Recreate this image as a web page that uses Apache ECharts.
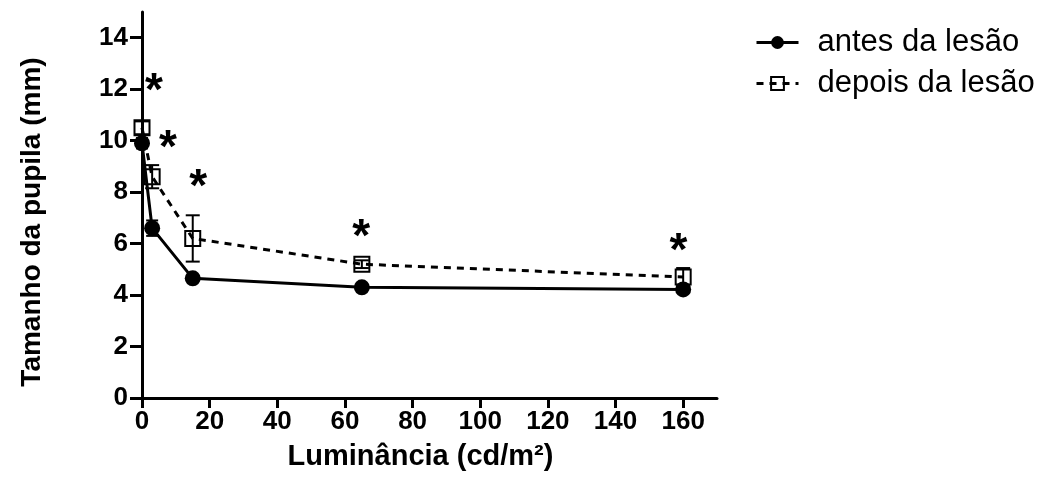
<!DOCTYPE html>
<html>
<head>
<meta charset="utf-8">
<script src="https://cdn.jsdelivr.net/npm/echarts@6/dist/echarts.min.js"></script>
<style>
html,body{margin:0;padding:0;background:#fff;}
#chart{width:1045px;height:486px;}
</style>
</head>
<body>
<div id="chart"></div>
<script>
// ---- data ----
var luminance = [0, 3, 15, 65, 160];
var antesMean = [9.9, 6.6, 4.65, 4.3, 4.22];
var antesErr = [0.2, 0.3, 0.1, 0.08, 0.1];
var depoisMean = [10.5, 8.6, 6.2, 5.2, 4.7];
var depoisErr = [0.25, 0.45, 0.9, 0.15, 0.35];
var starX = [3.5, 7.7, 16.6, 64.8, 158.6];
var starY = [12.3, 10.1, 8.56, 6.65, 6.07];
var seriesNames = ['antes da lesão', 'depois da lesão'];
var xTitle = 'Luminância (cd/m²)';
var yTitle = 'Tamanho da pupila (mm)';

var FONT = 'Liberation Sans, Arial, sans-serif';

function pairs(xs, ys) { return xs.map(function (x, i) { return [x, ys[i]]; }); }
function errData(xs, ys, es) { return xs.map(function (x, i) { return [x, ys[i] - es[i], ys[i] + es[i]]; }); }

function errRender(capHalf) {
  return function (params, api) {
    var lo = api.coord([api.value(0), api.value(1)]);
    var hi = api.coord([api.value(0), api.value(2)]);
    var st = { stroke: '#000', lineWidth: 2 };
    return {
      type: 'group',
      children: [
        { type: 'line', shape: { x1: lo[0], y1: lo[1], x2: hi[0], y2: hi[1] }, style: st },
        { type: 'line', shape: { x1: lo[0] - capHalf, y1: lo[1], x2: lo[0] + capHalf, y2: lo[1] }, style: st },
        { type: 'line', shape: { x1: hi[0] - capHalf, y1: hi[1], x2: hi[0] + capHalf, y2: hi[1] }, style: st }
      ]
    };
  };
}

var chart = echarts.init(document.getElementById('chart'), null, { renderer: 'canvas' });
chart.setOption({
  animation: false,
  backgroundColor: '#fff',
  grid: { left: 142, right: 328, top: 12, bottom: 88, containLabel: false, outerBoundsMode: 'none' },
  legend: {
    orient: 'vertical',
    left: 750,
    top: 22,
    itemWidth: 42,
    itemHeight: 16,
    itemGap: 10,
    data: seriesNames,
    lineStyle: { width: 3 },
    textStyle: { fontFamily: FONT, fontSize: 31, color: '#000', padding: [0, 0, 0, 14] }
  },
  xAxis: {
    type: 'value',
    min: 0, max: 170, interval: 20,
    name: xTitle,
    nameLocation: 'middle',
    nameGap: 44,
    nameTextStyle: { fontFamily: FONT, fontSize: 29, fontWeight: 'bold', color: '#000', padding: [0, 18, 0, 0] },
    axisLine: { show: true, onZero: false, lineStyle: { color: '#000', width: 3 } },
    axisTick: { show: true, length: 10, lineStyle: { color: '#000', width: 3 } },
    axisLabel: {
      fontFamily: FONT, fontSize: 26, fontWeight: 'bold', color: '#000', margin: 11,
      showMaxLabel: false,
      formatter: function (v) { return v > 160 ? '' : String(v); }
    },
    splitLine: { show: false }
  },
  yAxis: {
    type: 'value',
    min: 0, max: 15, interval: 2,
    name: yTitle,
    nameLocation: 'middle',
    nameGap: 96,
    nameTextStyle: { fontFamily: FONT, fontSize: 28, fontWeight: 'bold', color: '#000', padding: [0, 34, 0, 0] },
    axisLine: { show: true, onZero: false, lineStyle: { color: '#000', width: 3 } },
    axisTick: { show: true, length: 12, lineStyle: { color: '#000', width: 3 } },
    axisLabel: {
      fontFamily: FONT, fontSize: 26, fontWeight: 'bold', color: '#000', margin: 14,
      showMaxLabel: false,
      formatter: function (v) { return v > 14 ? '' : String(v); }
    },
    splitLine: { show: false }
  },
  series: [
    {
      name: 'errDepois', type: 'custom', z: 2,
      renderItem: errRender(7),
      data: errData(luminance, depoisMean, depoisErr),
      encode: { x: 0, y: [1, 2] }, silent: true
    },
    {
      name: 'errAntes', type: 'custom', z: 2,
      renderItem: errRender(6),
      data: errData(luminance, antesMean, antesErr),
      encode: { x: 0, y: [1, 2] }, silent: true
    },
    {
      name: seriesNames[1], type: 'line', z: 3,
      data: pairs(luminance, depoisMean),
      symbol: 'rect', symbolSize: 15,
      lineStyle: { color: '#000', width: 3, type: [7, 6] },
      itemStyle: { color: 'rgba(255,255,255,0)', borderColor: '#000', borderWidth: 2 }
    },
    {
      name: seriesNames[0], type: 'line', z: 4,
      data: pairs(luminance, antesMean),
      symbol: 'circle', symbolSize: 16,
      lineStyle: { color: '#000', width: 3 },
      itemStyle: { color: '#000', borderColor: '#000', borderWidth: 0 }
    },
    {
      name: 'stars', type: 'custom', z: 5, silent: true,
      data: pairs(starX, starY),
      renderItem: function (params, api) {
        var p = api.coord([api.value(0), api.value(1)]);
        return {
          type: 'text', x: p[0], y: p[1] + 11,
          style: { text: '*', font: 'bold 46px ' + FONT, fill: '#000', align: 'center', verticalAlign: 'middle' }
        };
      }
    }
  ]
});
</script>
</body>
</html>
